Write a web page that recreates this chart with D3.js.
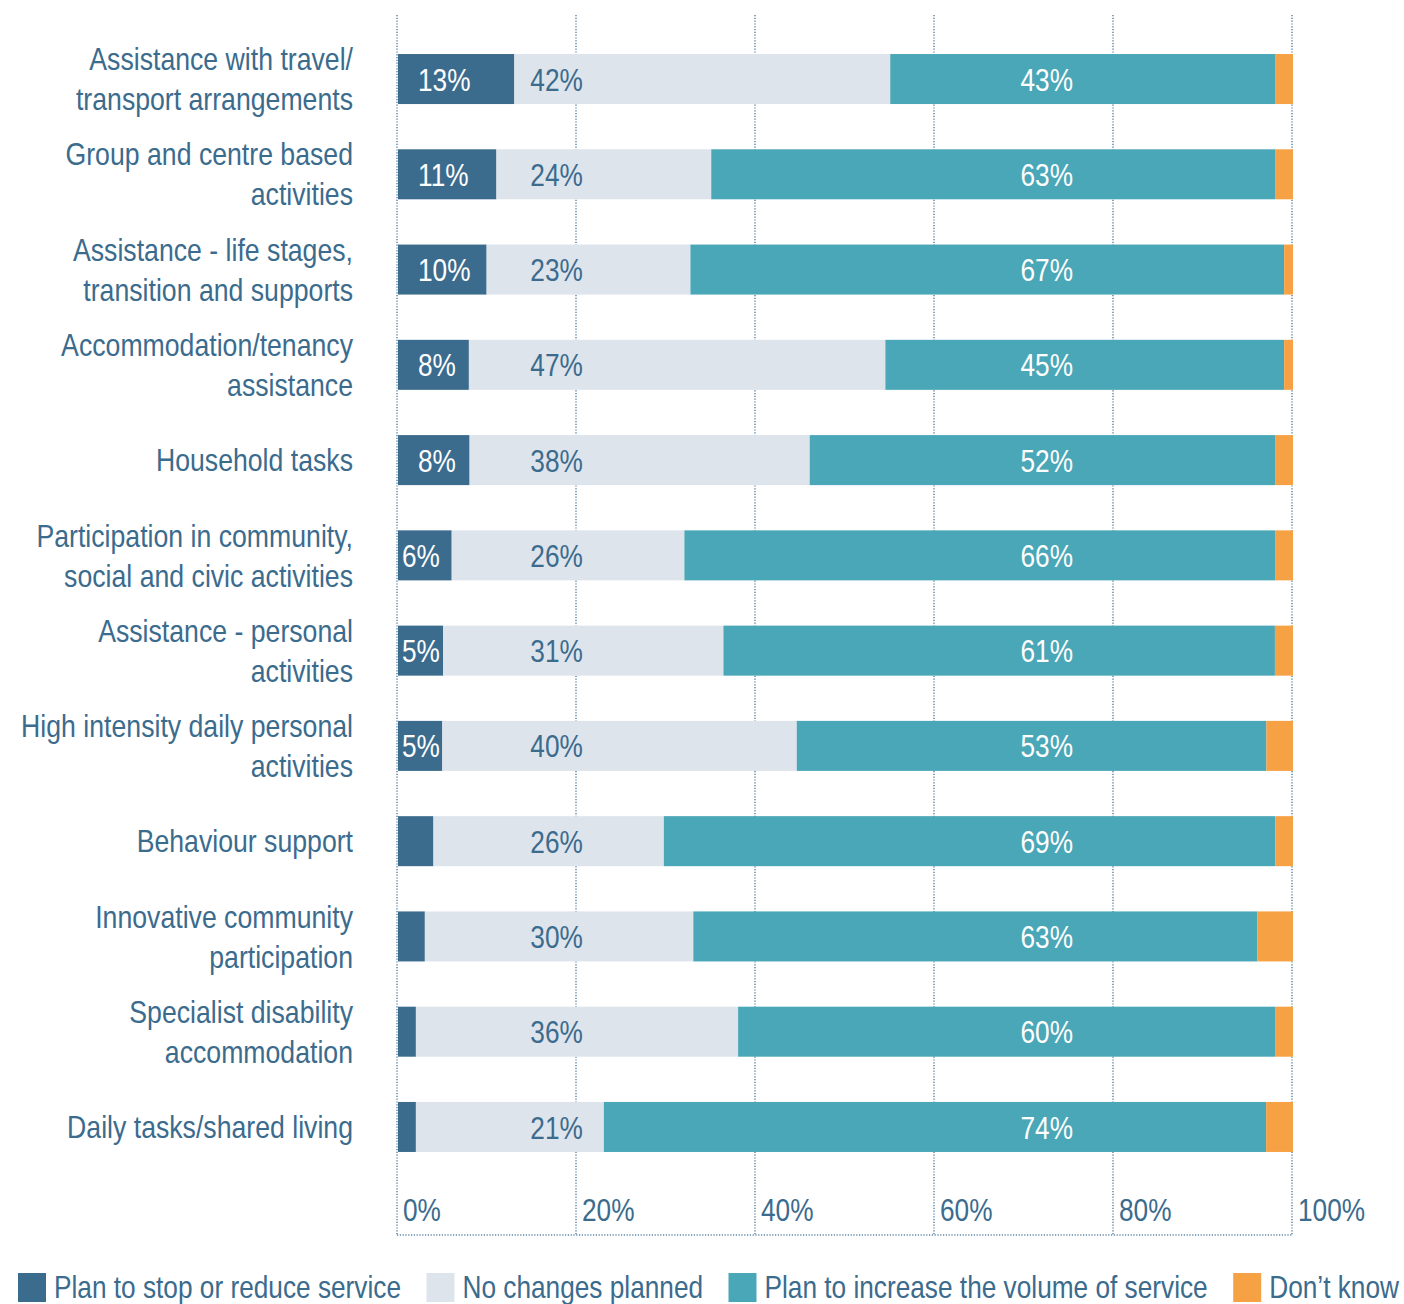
<!DOCTYPE html>
<html>
<head>
<meta charset="utf-8">
<script src="https://cdn.jsdelivr.net/npm/d3@7"></script>
<style>
  html, body { margin: 0; padding: 0; background: #ffffff; }
  svg { display: block; }
  text { font-family: "Liberation Sans", Arial, sans-serif; }
</style>
</head>
<body>
<svg id="chart" width="1404" height="1304"></svg>
<script>
// Service types (label lines) and share of providers per planned change, in %
const categories = [
  ["Assistance with travel/", "transport arrangements"],
  ["Group and centre based", "activities"],
  ["Assistance - life stages,", "transition and supports"],
  ["Accommodation/tenancy", "assistance"],
  ["Household tasks"],
  ["Participation in community,", "social and civic activities"],
  ["Assistance - personal", "activities"],
  ["High intensity daily personal", "activities"],
  ["Behaviour support"],
  ["Innovative community", "participation"],
  ["Specialist disability", "accommodation"],
  ["Daily tasks/shared living"]
];
const reduceService   = [13, 11, 10, 8, 8, 6, 5, 5, 4, 3, 2, 2];
const noChanges       = [42, 24, 23, 47, 38, 26, 31, 40, 26, 30, 36, 21];
const increaseService = [43, 63, 67, 45, 52, 66, 61, 53, 69, 63, 60, 74];
const dontKnow        = [2, 2, 1, 1, 2, 2, 2, 3, 2, 4, 2, 3];
const seriesNames = ["Plan to stop or reduce service", "No changes planned",
                     "Plan to increase the volume of service", "Don\u2019t know"];
const xTicks = [0, 20, 40, 60, 80, 100];

const colors = ["#3c6c8d", "#dee4ec", "#4aa7b7", "#f7a145"];
const textColor = "#3b6b8d";
// condensed look: horizontally squeezed sans
const SQ = 0.82, SQ_CAT = 0.86;

const svg = d3.select("#chart");
const keys = ["reduce", "none", "increase", "unknown"];
const rows = categories.map((lines, i) => ({
  id: i, lines,
  reduce: reduceService[i], none: noChanges[i],
  increase: increaseService[i], unknown: dontKnow[i]
}));

const x = d3.scaleLinear().domain([0, 100]).range([397, 1292]);
const y = d3.scaleBand().domain(rows.map(d => d.id))
  .range([31.4, 1174.6]).paddingInner(0.475).paddingOuter(0.2375);

// each row is expanded to the full width
const stacked = d3.stack().keys(keys).offset(d3.stackOffsetExpand)(rows);

// place a text at (px, py) with the condensed squeeze
const at = (px, py, s = SQ) => `translate(${px},${py}) scale(${s},1)`;

// dotted vertical gridlines and baseline
const grid = svg.append("g");
grid.selectAll("line.v").data(xTicks).join("line")
  .attr("x1", d => x(d)).attr("x2", d => x(d))
  .attr("y1", 15).attr("y2", 1235)
  .attr("stroke", "#5f87a8").attr("stroke-width", 1.5)
  .attr("stroke-dasharray", "1.2,1.6");
grid.append("line")
  .attr("x1", x(0)).attr("x2", x(100)).attr("y1", 1235).attr("y2", 1235)
  .attr("stroke", "#5f87a8").attr("stroke-width", 1.5)
  .attr("stroke-dasharray", "1.2,1.6");

// bars
const layers = svg.append("g").selectAll("g").data(stacked).join("g")
  .attr("fill", (d, i) => colors[i]);
layers.selectAll("rect").data(d => d).join("rect")
  .attr("x", d => x(d[0] * 100) + 1)
  .attr("width", d => Math.max(0, x(d[1] * 100) - x(d[0] * 100)))
  .attr("y", d => y(d.data.id))
  .attr("height", y.bandwidth());

const labelFont = 32;
const cy = d => y(d.id) + y.bandwidth() / 2;

// labels on the "reduce" segments
const reduceLabels = svg.append("g");
rows.filter(d => d.reduce >= 5).forEach(d => {
  const s = stacked[0][d.id];
  const x0 = x(s[0] * 100), x1 = x(s[1] * 100);
  const t = reduceLabels.append("text")
    .attr("dy", "0.36em")
    .attr("font-size", labelFont).attr("fill", "#ffffff")
    .text(d.reduce + "%");
  const w = t.node().getComputedTextLength() * SQ;
  t.attr("transform", at((x1 - x0 - w >= 30) ? x0 + 21 : x0 + 5, cy(d)));
});

// labels on the "no changes" segments
svg.append("g").selectAll("text").data(rows).join("text")
  .attr("transform", d => at(x(14.9), cy(d))).attr("dy", "0.36em")
  .attr("font-size", labelFont).attr("fill", textColor)
  .text(d => d.none + "%");

// labels on the "increase" segments
svg.append("g").selectAll("text").data(rows).join("text")
  .attr("transform", d => at(x(72.6), cy(d))).attr("dy", "0.36em")
  .attr("text-anchor", "middle")
  .attr("font-size", labelFont).attr("fill", "#ffffff")
  .text(d => d.increase + "%");

// category labels
const cat = svg.append("g").selectAll("text").data(rows).join("text")
  .attr("transform", d => at(353, cy(d), SQ_CAT)).attr("text-anchor", "end")
  .attr("font-size", 31).attr("fill", textColor);
cat.selectAll("tspan").data(d => d.lines.map((l, k) => ({ l, k, n: d.lines.length })))
  .join("tspan")
  .attr("x", 0)
  .attr("y", t => (t.k - (t.n - 1) / 2) * 40)
  .attr("dy", "0.36em")
  .text(t => t.l);

// x tick labels
svg.append("g").selectAll("text").data(xTicks).join("text")
  .attr("transform", d => at(x(d) + 6, 1221))
  .attr("font-size", 32).attr("fill", textColor)
  .text(d => d + "%");

// legend spread across the bottom
const legend = svg.append("g");
const items = seriesNames.map((name, i) => {
  const g = legend.append("g");
  g.append("rect").attr("width", 28).attr("height", 29).attr("y", 1273).attr("fill", colors[i]);
  const t = g.append("text").attr("font-size", 32).attr("fill", textColor).text(name);
  return { g, t, w: t.node().getComputedTextLength() * SQ };
});
const left = 18, right = 1399, sw = 28, tg = 8;
const used = d3.sum(items, it => sw + tg + it.w);
const gap = (right - left - used) / (items.length - 1);
let cx = left;
items.forEach(it => {
  it.g.select("rect").attr("x", cx);
  it.t.attr("transform", at(cx + sw + tg, 1298));
  cx += sw + tg + it.w + gap;
});
</script>
</body>
</html>
